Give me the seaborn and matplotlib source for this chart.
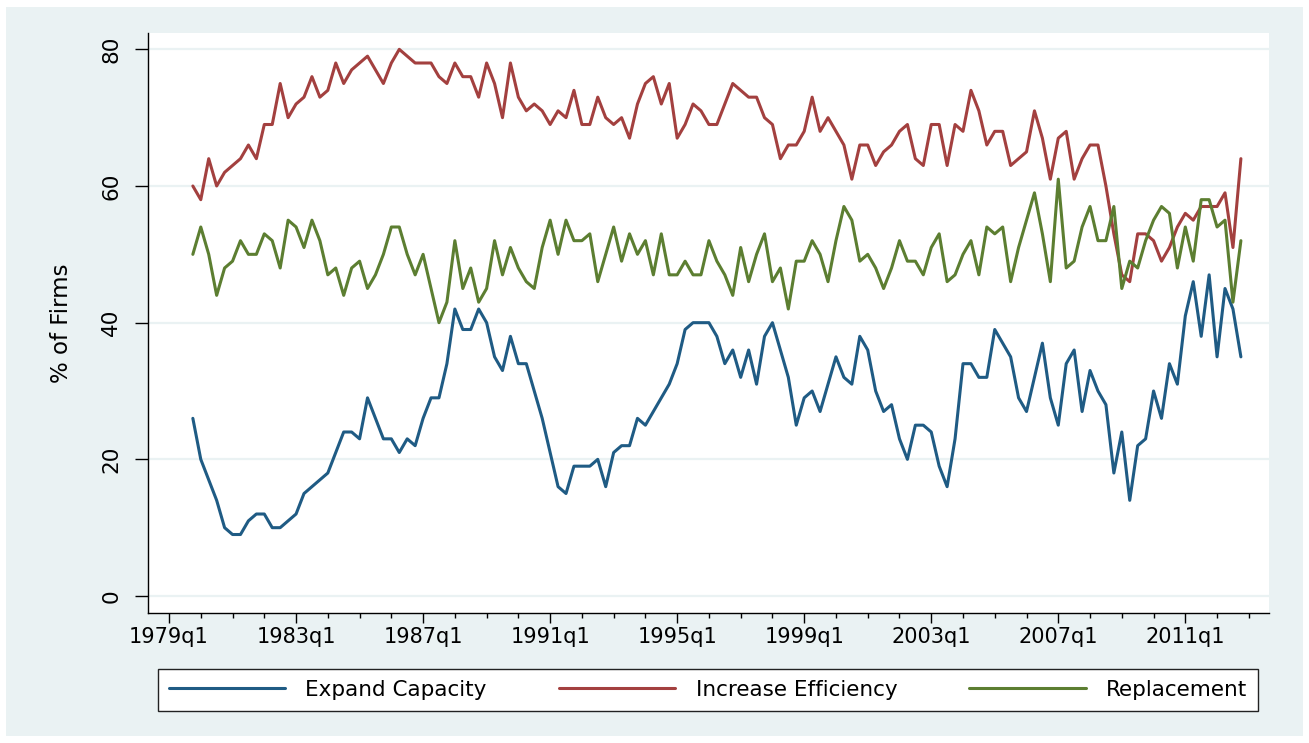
import numpy as np
import pandas as pd
import matplotlib
matplotlib.use("Agg")
import matplotlib.pyplot as plt
from matplotlib.patches import Rectangle
from matplotlib.lines import Line2D
from matplotlib.ticker import FixedLocator, MultipleLocator
import seaborn as sns

# Survey share of firms citing each investment motive, quarterly from 1979q4
first_year, first_quarter = 1979, 4

expand_capacity = [
    26, 20, 17, 14, 10, 9, 9, 11, 12, 12, 10, 10, 11, 12, 15, 16, 17, 18, 21, 24,
    24, 23, 29, 26, 23, 23, 21, 23, 22, 26, 29, 29, 34,
    42, 39, 39, 42, 40, 35, 33, 38, 34, 34, 30, 26, 21, 16, 15, 19, 19, 19, 20, 16,
    21, 22, 22, 26, 25, 27, 29, 31, 34, 39, 40, 40, 40, 38, 34,
    36, 32, 36, 31, 38, 40, 36, 32, 25, 29, 30, 27, 31, 35, 32, 31, 38, 36, 30, 27,
    28, 23, 20, 25, 25, 24, 19, 16, 23, 34, 34, 32, 32, 39, 37, 35,
    29, 27, 32, 37, 29, 25, 34, 36, 27, 33, 30, 28, 18, 24, 14, 22, 23, 30, 26, 34,
    31, 41, 46, 38, 47, 35, 45, 42, 35,
]

increase_efficiency = [
    60, 58, 64, 60, 62, 63, 64, 66, 64, 69, 69, 75, 70, 72, 73, 76, 73, 74, 78, 75,
    77, 78, 79, 77, 75, 78, 80, 79, 78, 78, 78, 76, 75,
    78, 76, 76, 73, 78, 75, 70, 78, 73, 71, 72, 71, 69, 71, 70, 74, 69, 69, 73, 70,
    69, 70, 67, 72, 75, 76, 72, 75, 67, 69, 72, 71, 69, 69, 72,
    75, 74, 73, 73, 70, 69, 64, 66, 66, 68, 73, 68, 70, 68, 66, 61, 66, 66, 63, 65,
    66, 68, 69, 64, 63, 69, 69, 63, 69, 68, 74, 71, 66, 68, 68, 63,
    64, 65, 71, 67, 61, 67, 68, 61, 64, 66, 66, 60, 53, 47, 46, 53, 53, 52, 49, 51,
    54, 56, 55, 57, 57, 57, 59, 51, 64,
]

replacement = [
    50, 54, 50, 44, 48, 49, 52, 50, 50, 53, 52, 48, 55, 54, 51, 55, 52, 47, 48, 44,
    48, 49, 45, 47, 50, 54, 54, 50, 47, 50, 45, 40, 43,
    52, 45, 48, 43, 45, 52, 47, 51, 48, 46, 45, 51, 55, 50, 55, 52, 52, 53, 46, 50,
    54, 49, 53, 50, 52, 47, 53, 47, 47, 49, 47, 47, 52, 49, 47,
    44, 51, 46, 50, 53, 46, 48, 42, 49, 49, 52, 50, 46, 52, 57, 55, 49, 50, 48, 45,
    48, 52, 49, 49, 47, 51, 53, 46, 47, 50, 52, 47, 54, 53, 54, 46,
    51, 55, 59, 53, 46, 61, 48, 49, 54, 57, 52, 52, 57, 45, 49, 48, 52, 55, 57, 56,
    48, 54, 49, 58, 58, 54, 55, 43, 52,
]

series_names = ["Expand Capacity", "Increase Efficiency", "Replacement"]
series_colors = ["#1F5B84", "#A3403F", "#5C7E31"]
x_tick_labels = ["1979q1", "1983q1", "1987q1", "1991q1", "1995q1",
                 "1999q1", "2003q1", "2007q1", "2011q1"]
y_ticks = [0, 20, 40, 60, 80]
y_label = "% of Firms"

BASE_YEAR = 1979


def quarter_index(year, q):
    """Quarters elapsed since 1979q1."""
    return (year - BASE_YEAR) * 4 + (q - 1)


start = quarter_index(first_year, first_quarter)
n = len(expand_capacity)
quarters = np.arange(start, start + n)

df = pd.concat([
    pd.DataFrame({"quarter": quarters, "pct": vals, "series": name})
    for name, vals in zip(series_names, [expand_capacity, increase_efficiency, replacement])
], ignore_index=True)

x_tick_pos = [quarter_index(int(s[:4]), int(s[-1])) for s in x_tick_labels]

sns.set_theme(style="white")
plt.rcParams["font.family"] = ["DejaVu Sans"]
plt.rcParams["text.color"] = "black"
plt.rcParams["axes.labelcolor"] = "black"
plt.rcParams["xtick.color"] = "black"
plt.rcParams["ytick.color"] = "black"

W, H = 1309, 743
panel = "#EAF2F3"
fig = plt.figure(figsize=(W / 100, H / 100), dpi=100)
fig.patch.set_facecolor("white")
fig.patches.append(Rectangle((6 / W, 7 / H), (1303 - 6) / W, (736 - 7) / H,
                             transform=fig.transFigure, facecolor=panel,
                             edgecolor="none", zorder=-10))

left, right, top, bottom = 148.3, 1269, 33, 613.3
ax = fig.add_axes([left / W, 1 - bottom / H, (right - left) / W, (bottom - top) / H])
ax.set_facecolor("white")

sns.lineplot(data=df, x="quarter", y="pct", hue="series", hue_order=series_names,
             palette=series_colors, linewidth=2.2, ax=ax, legend=False)

ax.set_xlim(-2.61, 138.54)
ax.set_ylim(-2.53, 82.39)

# horizontal grid only
ax.set_yticks(y_ticks)
ax.yaxis.grid(True, color=panel, linewidth=1.6)
ax.xaxis.grid(False)
ax.set_axisbelow(True)

for side in ["top", "right"]:
    ax.spines[side].set_visible(False)
for side in ["left", "bottom"]:
    ax.spines[side].set_color("black")
    ax.spines[side].set_linewidth(1.0)

ax.xaxis.set_major_locator(FixedLocator(x_tick_pos))
ax.set_xticklabels(x_tick_labels)
ax.xaxis.set_minor_locator(MultipleLocator(4))
ax.tick_params(axis="x", which="major", direction="out", length=7.2, width=1.0,
               color="black", labelcolor="black", labelsize=15, pad=3, bottom=True)
ax.tick_params(axis="x", which="minor", direction="out", length=3.6, width=1.0,
               color="black", bottom=True)
ax.tick_params(axis="y", which="major", direction="out", length=9.4, width=1.0,
               color="black", labelcolor="black", labelsize=15.5, pad=10, left=True)
for lab in ax.get_yticklabels():
    lab.set_rotation(90)
    lab.set_va("center")

ax.set_xlabel("")
ax.set_ylabel(y_label, fontsize=16.5, color="black")
ax.yaxis.label.set_va("center")
ax.yaxis.set_label_coords((61 - left) / (right - left), 0.5)

handles = [Line2D([0], [0], color=c, linewidth=2.2) for c in series_colors]
leg = ax.legend(handles, series_names, loc="center", ncol=3, mode="expand",
                bbox_to_anchor=(158 / W, 1 - 714 / H, 1100 / W, 48 / H),
                bbox_transform=fig.transFigure, fontsize=15.5, frameon=True,
                fancybox=False, shadow=False, framealpha=1, borderaxespad=0,
                borderpad=0.5, handlelength=5.4, handletextpad=0.95,
                columnspacing=2.0)
leg.get_frame().set_edgecolor("#222222")
leg.get_frame().set_linewidth(1.0)
leg.get_frame().set_facecolor("white")
for t in leg.get_texts():
    t.set_color("black")

fig.savefig("out.png", dpi=100, facecolor=fig.get_facecolor())
